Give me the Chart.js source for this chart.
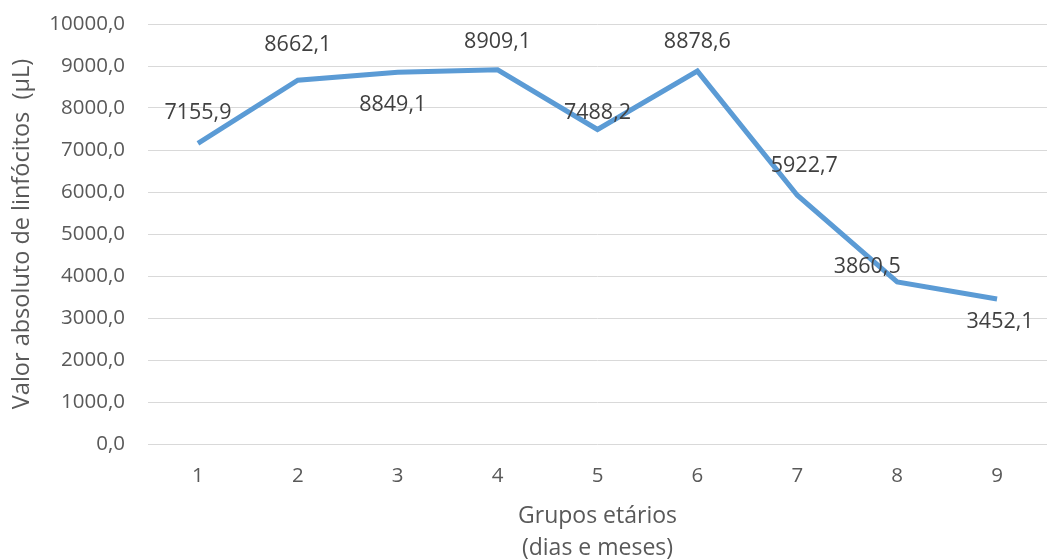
<!DOCTYPE html>
<html>
<head>
<meta charset="utf-8">
<script src="https://cdn.jsdelivr.net/npm/chart.js@4.4.0/dist/chart.umd.min.js"></script>
<style>
  html, body { margin: 0; padding: 0; background: #ffffff; }
  #wrap { width: 1051px; height: 559px; position: relative; }
</style>
</head>
<body>
<div id="wrap"><canvas id="chartLinfocitos"></canvas></div>
<script>
const grupos = ["1", "2", "3", "4", "5", "6", "7", "8", "9"];
const linfocitos = [7155.9, 8662.1, 8849.1, 8909.1, 7488.2, 8878.6, 5922.7, 3860.5, 3452.1];
const yTicks = [0, 1000, 2000, 3000, 4000, 5000, 6000, 7000, 8000, 9000, 10000];

// where each value label sits relative to its point (px)
const labelOffsets = [[0, -31], [0, -35], [-5, 33], [0, -28], [0, -17], [0, -29], [7, -29], [-30, -15], [3, 23]];

const fontFamily = "'Open Sans', 'Liberation Sans', sans-serif";

function formatPt(value) {
  return Number(value).toFixed(1).replace(".", ",");
}

const valueLabels = {
  id: "valueLabels",
  afterDatasetsDraw(chart) {
    const ctx = chart.ctx;
    const meta = chart.getDatasetMeta(0);
    ctx.save();
    ctx.font = "21.5px " + fontFamily;
    ctx.fillStyle = "#404040";
    ctx.textAlign = "center";
    ctx.textBaseline = "middle";
    meta.data.forEach((point, i) => {
      const off = labelOffsets[i] || [0, -30];
      ctx.fillText(formatPt(linfocitos[i]), point.x + off[0], point.y + off[1]);
    });
    ctx.restore();
  }
};

new Chart(document.getElementById("chartLinfocitos"), {
  type: "line",
  data: {
    labels: grupos,
    datasets: [{
      data: linfocitos,
      borderColor: "#5b9bd5",
      borderWidth: 5,
      pointRadius: 0,
      tension: 0,
      fill: false
    }]
  },
  options: {
    responsive: true,
    maintainAspectRatio: false,
    animation: false,
    layout: { padding: { top: 24, right: 4, left: 0, bottom: 0 } },
    plugins: {
      legend: { display: false },
      tooltip: { enabled: false }
    },
    scales: {
      x: {
        offset: true,
        grid: { display: false, drawTicks: false },
        border: { display: false },
        ticks: { color: "#595959", padding: 20, font: { family: fontFamily, size: 20.5 } },
        title: {
          display: true,
          text: ["Grupos etários", "(dias e meses)"],
          color: "#595959",
          font: { family: fontFamily, size: 23, lineHeight: 1.4 },
          padding: { top: 0, bottom: -6 }
        },
        afterFit(scale) { scale.height = 115; }
      },
      y: {
        min: 0,
        max: 10000,
        afterBuildTicks(scale) { scale.ticks = yTicks.map((v) => ({ value: v })); },
        grid: { color: "#d9d9d9", lineWidth: 1, drawTicks: false },
        border: { display: false },
        ticks: {
          color: "#595959",
          padding: 23,
          font: { family: fontFamily, size: 20.5 },
          callback: (value) => formatPt(value)
        },
        title: {
          display: true,
          text: "Valor absoluto de linfócitos  (µL)",
          color: "#595959",
          font: { family: fontFamily, size: 23.5 },
          padding: { top: 8, bottom: 0 }
        },
        afterFit(scale) {
          scale.width = 148;
          scale.paddingTop = 0;
          scale.paddingBottom = 0;
        }
      }
    }
  },
  plugins: [valueLabels]
});
</script>
</body>
</html>
